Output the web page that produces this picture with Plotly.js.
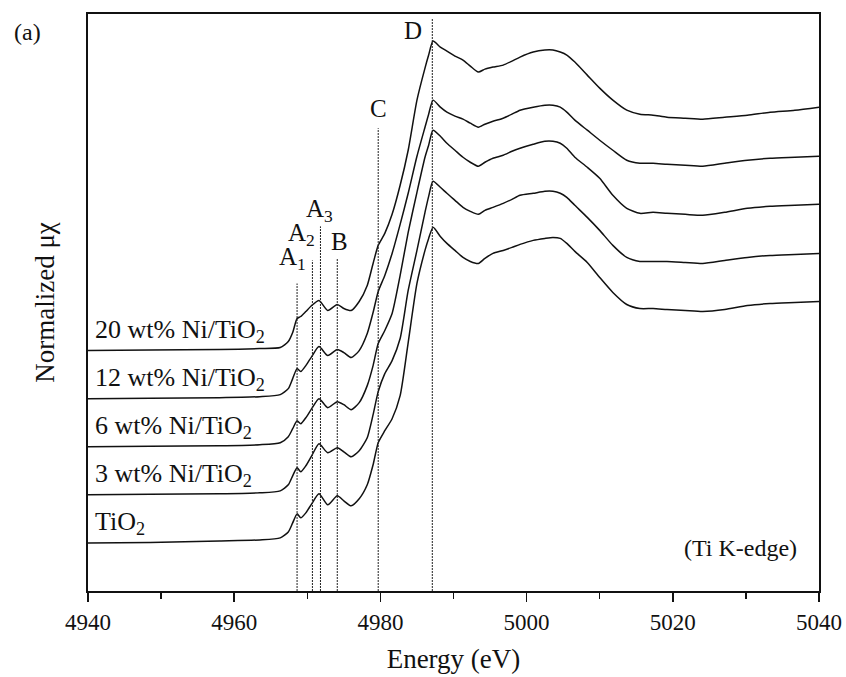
<!DOCTYPE html>
<html><head><meta charset="utf-8">
<script src="https://cdn.plot.ly/plotly-3.0.1.min.js"></script>
<style>html,body{margin:0;padding:0;background:#fff}#chart{width:846px;height:677px}</style>
</head><body><div id="chart"></div>
<script>
// Energy grid (eV)
const energy = [4940, 4948.5, 4958, 4963.5, 4966.3, 4967.4, 4968, 4968.6, 4969.1, 4969.8,
  4970.6, 4971.6, 4972.8, 4974.1, 4975, 4976, 4977.1, 4978.2, 4979, 4979.7,
  4980.6, 4981.6, 4982.7, 4983.8, 4985, 4986.1, 4986.6, 4987.2, 4988.2, 4989.1,
  4990.2, 4991.3, 4992.3, 4993.4, 4994.3, 4995.4, 4996.8, 4998, 4999.1, 5000.9,
  5002.5, 5003.6, 5004.6, 5005.5, 5006.6, 5008.3, 5010, 5011.8, 5013.7, 5015.5,
  5017.3, 5019.2, 5021.7, 5024.1, 5027.1, 5030.2, 5033.3, 5036.7, 5040];

// Normalized absorption (pre-edge = 0)
const muTiO2 = [0, 0.0025, 0.01, 0.015, 0.025, 0.055, 0.1, 0.145, 0.125, 0.15,
  0.195, 0.245, 0.19, 0.235, 0.21, 0.185, 0.22, 0.29, 0.39, 0.5,
  0.56, 0.62, 0.735, 1.0, 1.295, 1.46, 1.52, 1.575, 1.53, 1.495,
  1.46, 1.425, 1.405, 1.395, 1.42, 1.445, 1.46, 1.475, 1.49, 1.51,
  1.52, 1.525, 1.52, 1.495, 1.455, 1.4, 1.325, 1.25, 1.19, 1.17,
  1.17, 1.165, 1.16, 1.155, 1.165, 1.185, 1.195, 1.2, 1.205];
const muNi3 = [0, 0.0025, 0.005, 0.01, 0.02, 0.05, 0.095, 0.135, 0.115, 0.145,
  0.195, 0.255, 0.21, 0.235, 0.215, 0.19, 0.22, 0.285, 0.4, 0.515,
  0.605, 0.67, 0.78, 1.02, 1.22, 1.41, 1.49, 1.565, 1.535, 1.505,
  1.47, 1.435, 1.415, 1.4, 1.42, 1.435, 1.455, 1.475, 1.495, 1.505,
  1.515, 1.515, 1.505, 1.485, 1.445, 1.385, 1.32, 1.245, 1.185, 1.165,
  1.165, 1.165, 1.16, 1.155, 1.17, 1.185, 1.195, 1.2, 1.205];
const muNi6 = [0, 0.0025, 0.005, 0.01, 0.02, 0.05, 0.09, 0.13, 0.115, 0.145,
  0.19, 0.24, 0.195, 0.225, 0.21, 0.185, 0.22, 0.305, 0.405, 0.515,
  0.58, 0.665, 0.855, 1.07, 1.27, 1.445, 1.505, 1.58, 1.55, 1.515,
  1.48, 1.445, 1.42, 1.4, 1.42, 1.44, 1.455, 1.475, 1.49, 1.51,
  1.525, 1.525, 1.515, 1.49, 1.445, 1.395, 1.34, 1.255, 1.19, 1.165,
  1.17, 1.165, 1.16, 1.155, 1.17, 1.19, 1.2, 1.205, 1.21];
const muNi12 = [0, 0.0025, 0.005, 0.01, 0.02, 0.05, 0.1, 0.15, 0.135, 0.165,
  0.21, 0.26, 0.215, 0.245, 0.23, 0.205, 0.24, 0.325, 0.43, 0.535,
  0.615, 0.725, 0.87, 1.025, 1.21, 1.355, 1.42, 1.49, 1.455, 1.43,
  1.41, 1.395, 1.375, 1.355, 1.37, 1.385, 1.4, 1.42, 1.44, 1.455,
  1.465, 1.465, 1.455, 1.43, 1.39, 1.34, 1.29, 1.24, 1.19, 1.175,
  1.175, 1.17, 1.165, 1.16, 1.175, 1.19, 1.2, 1.205, 1.21];
const muNi20 = [0, 0.0025, 0.005, 0.01, 0.015, 0.045, 0.09, 0.16, 0.17, 0.195,
  0.225, 0.25, 0.2, 0.23, 0.21, 0.2, 0.245, 0.325, 0.435, 0.525,
  0.585, 0.68, 0.825, 1.0, 1.25, 1.41, 1.475, 1.545, 1.515, 1.495,
  1.47, 1.45, 1.42, 1.39, 1.405, 1.415, 1.425, 1.445, 1.465, 1.49,
  1.5, 1.5, 1.49, 1.475, 1.44, 1.375, 1.31, 1.25, 1.2, 1.18,
  1.175, 1.165, 1.16, 1.155, 1.165, 1.175, 1.19, 1.2, 1.215];

const seriesNames = ['TiO<sub>2</sub>', '3 wt% Ni/TiO<sub>2</sub>', '6 wt% Ni/TiO<sub>2</sub>',
  '12 wt% Ni/TiO<sub>2</sub>', '20 wt% Ni/TiO<sub>2</sub>'];
const seriesValues = [muTiO2, muNi3, muNi6, muNi12, muNi20];

// Feature markers
const featureNames = ['A<sub>1</sub>', 'A<sub>2</sub>', 'A<sub>3</sub>', 'B', 'C', 'D'];
const featureEnergy = [4968.6, 4970.7, 4971.8, 4974.1, 4979.7, 4987.1];
const featureTop = [1.535, 1.65, 1.82, 1.66, 2.31, 2.86];

// ---- presentation ----
const stackStep = 0.24;
const labelPos = [[4968.0, 1.66], [4969.2, 1.78], [4971.7, 1.9], [4974.4, 1.745], [4979.7, 2.41], [4984.5, 2.80]];
const serif = 'Liberation Serif, Times New Roman, serif';

const traces = [];
const annotations = [];
seriesValues.forEach((vals, i) => {
  const off = stackStep * (i + 1);
  traces.push({
    x: energy, y: vals.map(v => v + off), type: 'scatter', mode: 'lines',
    line: {color: '#111', width: 1.5, shape: 'spline', smoothing: 0.6},
    name: seriesNames[i], showlegend: false, hoverinfo: 'skip'
  });
  annotations.push({
    x: 4940.7, y: off + 0.1, xref: 'x', yref: 'y', text: seriesNames[i],
    showarrow: false, xanchor: 'left', yanchor: 'middle',
    font: {family: serif, size: 26, color: '#111'}
  });
});
featureNames.forEach((nm, i) => {
  traces.push({
    x: [featureEnergy[i], featureEnergy[i]], y: [0, featureTop[i]], type: 'scatter', mode: 'lines',
    line: {color: '#222', width: 1, dash: '2px,1px'}, showlegend: false, hoverinfo: 'skip'
  });
  annotations.push({
    x: labelPos[i][0], y: labelPos[i][1], xref: 'x', yref: 'y', text: nm,
    showarrow: false, xanchor: 'center', yanchor: 'middle',
    font: {family: serif, size: 25, color: '#111'}
  });
});
annotations.push({x: -0.104, y: 0.968, xref: 'paper', yref: 'paper', text: '(a)', showarrow: false,
  xanchor: 'left', yanchor: 'middle', font: {family: serif, size: 24, color: '#111'}});
annotations.push({x: 0.972, y: 0.075, xref: 'paper', yref: 'paper', text: '(Ti K-edge)', showarrow: false,
  xanchor: 'right', yanchor: 'middle', font: {family: serif, size: 24, color: '#111'}});

const layout = {
  width: 846, height: 677,
  margin: {l: 88, r: 27, t: 14, b: 86},
  paper_bgcolor: '#fff', plot_bgcolor: '#fff',
  font: {family: serif, color: '#111'},
  xaxis: {
    range: [4940, 5040], tick0: 4940, dtick: 20, ticks: 'outside', ticklen: 9, tickwidth: 1.5,
    tickcolor: '#111', showline: true, linewidth: 2, linecolor: '#111', mirror: true,
    showgrid: false, zeroline: false,
    tickfont: {family: serif, size: 23, color: '#111'},
    minor: {dtick: 10, ticks: 'outside', ticklen: 6, tickwidth: 1.5, tickcolor: '#111', showgrid: false},
    title: {text: 'Energy (eV)', font: {family: serif, size: 27, color: '#111'}, standoff: 16}
  },
  yaxis: {
    range: [0, 2.88], showticklabels: false, ticks: '', showline: true, linewidth: 2,
    linecolor: '#111', mirror: true, showgrid: false, zeroline: false,
    title: {text: 'Normalized μχ', font: {family: serif, size: 27, color: '#111'}, standoff: 24}
  },
  annotations: annotations
};

Plotly.newPlot('chart', traces, layout, {displayModeBar: false, staticPlot: true});
</script>
</body></html>
